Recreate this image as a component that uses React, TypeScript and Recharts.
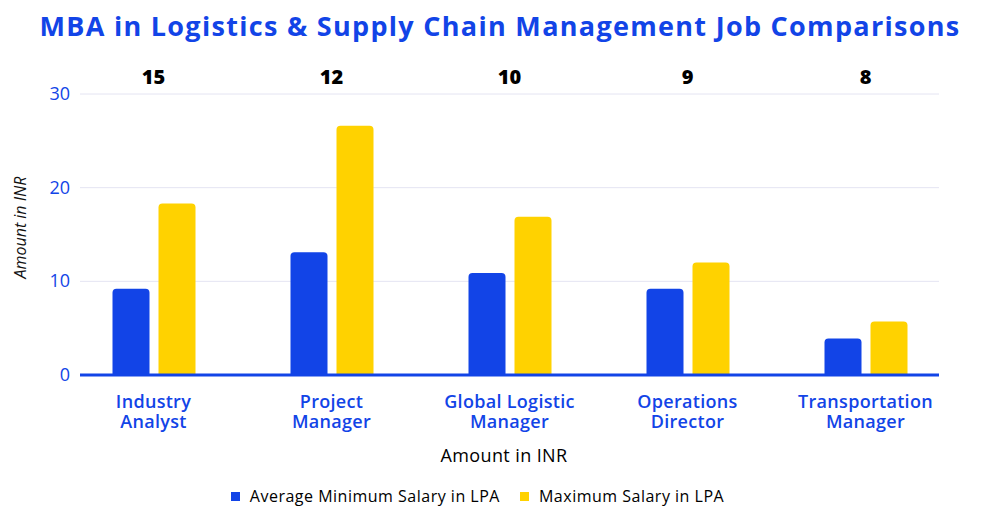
import React from 'react';
import { BarChart, Bar, XAxis, YAxis, CartesianGrid, Legend } from 'recharts';

const categories = [
  'Industry Analyst',
  'Project Manager',
  'Global Logistic Manager',
  'Operations Director',
  'Transportation Manager',
];
const avgMinSalary = [9.2, 13.1, 10.9, 9.2, 3.9];
const maxSalary = [18.3, 26.6, 16.9, 12.0, 5.7];
const jobCounts = [15, 12, 10, 9, 8];
const yTicks = [0, 10, 20, 30];

const seriesNames = ['Average Minimum Salary in LPA', 'Maximum Salary in LPA'];

const data = categories.map((name, i) => ({
  name,
  min: avgMinSalary[i],
  max: maxSalary[i],
  jobs: jobCounts[i],
}));

const BLUE = '#1244E7';
const YELLOW = '#FFD200';
const FONT = "'Open Sans', sans-serif";

const XTick = (props: any) => {
  const { x, y, payload } = props;
  const s: string = payload.value;
  const i = s.lastIndexOf(' ');
  const lines = [s.slice(0, i), s.slice(i + 1)];
  return (
    <g>
      {lines.map((l, k) => (
        <text
          key={k}
          x={x}
          y={y + 25 + k * 20}
          textAnchor="middle"
          fill={BLUE}
          fontSize={18}
          fontWeight={600}
          fontFamily={FONT}
          letterSpacing={0.3}
        >
          {l}
        </text>
      ))}
    </g>
  );
};

const TopTick = (props: any) => {
  const { x, y, payload } = props;
  const idx = categories.indexOf(payload.value);
  return (
    <text x={x} y={y} textAnchor="middle" fill="#000" fontSize={20} fontWeight={800} fontFamily={FONT} dy={-2}>
      {jobCounts[idx]}
    </text>
  );
};

const YTick = (props: any) => {
  const { x, y, payload } = props;
  return (
    <text x={x} y={y} textAnchor="end" fill={BLUE} fontSize={18} fontFamily={FONT} dy={6}>
      {payload.value}
    </text>
  );
};

const YLabel = (props: any) => {
  const vb = props.viewBox || { x: 20, y: 94, width: 60, height: 281 };
  const cx = vb.x + 6;
  const cy = vb.y + vb.height / 2 - 7;
  return (
    <text
      x={cx}
      y={cy}
      transform={`rotate(-90, ${cx}, ${cy})`}
      textAnchor="middle"
      fill="#111"
      fontSize={16}
      fontStyle="italic"
      fontFamily={FONT}
    >
      Amount in INR
    </text>
  );
};

const XLabel = (props: any) => {
  const vb = props.viewBox || { x: 80, y: 375, width: 859, height: 109 };
  const cx = vb.x + vb.width / 2 - 5.5;
  return (
    <text x={cx} y={vb.y + 87} textAnchor="middle" fill="#000" fontSize={18} fontWeight={500} fontFamily={FONT} letterSpacing={0.4}>
      Amount in INR
    </text>
  );
};

const LegendContent = (props: any) => {
  const payload = props.payload || [];
  return (
    <div
      style={{
        display: 'flex',
        justifyContent: 'center',
        alignItems: 'center',
        height: 24,
        fontFamily: FONT,
        fontSize: 16,
        letterSpacing: 0.5,
        color: '#000',
        paddingRight: 4,
      }}
    >
      {payload.map((p: any, i: number) => (
        <div key={i} style={{ display: 'flex', alignItems: 'center', marginLeft: i === 0 ? 0 : 20 }}>
          <span style={{ display: 'inline-block', width: 9, height: 9, background: p.color, marginRight: 10 }} />
          <span>{p.value}</span>
        </div>
      ))}
    </div>
  );
};

export default function App() {
  return (
    <div style={{ position: 'absolute', left: 0, top: 0, width: 1000, height: 520, background: '#fff' }}>
      <div
        style={{
          position: 'absolute',
          left: 0,
          top: 8,
          width: 1000,
          textAlign: 'center',
          fontFamily: FONT,
          fontWeight: 700,
          fontSize: 27,
          letterSpacing: 1.3,
          color: BLUE,
          lineHeight: '36px',
        }}
      >
        MBA in Logistics &amp; Supply Chain Management Job Comparisons
      </div>
      <BarChart
        width={1000}
        height={520}
        data={data}
        margin={{ top: 54, right: 61, bottom: 12, left: 20 }}
        barSize={37}
        barGap={9}
      >
        <CartesianGrid vertical={false} stroke="#E4E4F2" strokeWidth={1} />
        <XAxis
          dataKey="name"
          xAxisId="top"
          orientation="top"
          height={40}
          axisLine={false}
          tickLine={false}
          tick={<TopTick />}
          interval={0}
          padding={{ left: -15.5, right: -15.5 }}
        />
        <XAxis
          dataKey="name"
          height={109}
          axisLine={{ stroke: BLUE, strokeWidth: 3 }}
          tickLine={false}
          tick={<XTick />}
          interval={0}
          padding={{ left: -15.5, right: -15.5 }}
          label={<XLabel />}
        />
        <YAxis
          width={60}
          domain={[0, 30]}
          ticks={yTicks}
          axisLine={false}
          tickLine={false}
          tickSize={8}
          tickMargin={2}
          tick={<YTick />}
          label={<YLabel />}
        />
        <Legend verticalAlign="bottom" content={<LegendContent />} />
        <Bar dataKey="min" name={seriesNames[0]} fill={BLUE} radius={[4, 4, 0, 0]} isAnimationActive={false} />
        <Bar dataKey="max" name={seriesNames[1]} fill={YELLOW} radius={[4, 4, 0, 0]} isAnimationActive={false} />
      </BarChart>
    </div>
  );
}
